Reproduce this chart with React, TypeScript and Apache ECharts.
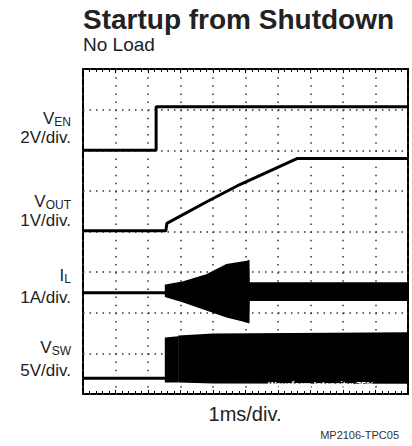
import React, { useEffect, useRef } from "react";
import * as echarts from "echarts";

// Screen is 10 horizontal divisions (1 ms/div) by 8 vertical divisions.
// Trace values are in divisions from the bottom of the screen.
const timeDivs = [0, 10];
const ampDivs = [0, 8];

const channelNames = ["V", "V", "I", "V"];
const channelSubs = ["EN", "OUT", "L", "SW"];
const channelScales = ["2V/div.", "1V/div.", "1A/div.", "5V/div."];

const titleText = "Startup from Shutdown";
const subtitleText = "No Load";
const xScaleText = "1ms/div.";
const figureId = "MP2106-TPC05";
const intensityText = "Waveform Intensity: 75%";

// V_EN trace [time div, level div]
const enTrace = [
  [0, 6.0],
  [2.25, 6.0],
  [2.25, 7.07],
  [10, 7.07],
];

// V_OUT trace
const outTrace = [
  [0, 4.02],
  [2.55, 4.02],
  [2.58, 4.2],
  [3.78, 4.72],
  [4.81, 5.15],
  [6.6, 5.8],
  [10, 5.8],
];

// I_L before switching starts
const ilBaseline = [
  [0, 2.49],
  [2.54, 2.49],
];
// I_L ripple envelope [time, low, high]
const ilEnvelope = [
  [2.54, 2.4, 2.68],
  [3.09, 2.27, 2.76],
  [3.8, 2.07, 2.93],
  [4.42, 1.9, 3.18],
  [5.04, 1.78, 3.26],
  [5.1, 1.76, 3.28],
  [5.11, 2.31, 2.73],
  [10, 2.31, 2.73],
];

// V_SW before switching starts
const swBaseline = [
  [0, 0.39],
  [2.54, 0.39],
];
// V_SW switching envelope [time, low, high]
const swEnvelopeA = [
  [2.54, 0.3, 1.37],
  [2.9, 0.3, 1.4],
];
const swEnvelopeB = [
  [2.95, 0.3, 1.42],
  [4.0, 0.28, 1.47],
  [10, 0.27, 1.5],
];

const FONT = "'Liberation Sans', Arial, Helvetica, sans-serif";

function traceSeries(data: number[][]) {
  return {
    type: "line",
    data,
    symbol: "none",
    silent: true,
    lineStyle: { color: "#000", width: 3 },
    z: 5,
  };
}

function bandSeries(rows: number[][]) {
  return {
    type: "custom",
    data: rows,
    encode: { x: 0, y: [1, 2] },
    silent: true,
    z: 5,
    renderItem: (params: any, api: any) => {
      if (params.dataIndex !== 0) return null;
      const top = rows.map((r) => api.coord([r[0], r[2]]));
      const bottom = rows
        .slice()
        .reverse()
        .map((r) => api.coord([r[0], r[1]]));
      return {
        type: "polygon",
        shape: { points: top.concat(bottom) },
        style: { fill: "#000", stroke: "#000", lineWidth: 1.5 },
      };
    },
  };
}

function measure(text: string, font: string): number {
  const c = document.createElement("canvas").getContext("2d");
  if (!c) return text.length * 8;
  c.font = font;
  return c.measureText(text).width;
}

export default function App() {
  const ref = useRef<HTMLDivElement>(null);

  useEffect(() => {
    document.body.style.margin = "0";
    if (!ref.current) return;
    const chart = echarts.init(ref.current, undefined, { renderer: "svg" });

    const gridLeft = 83;
    const gridTop = 69;
    const gridSize = 325;

    const labelRight = 71;
    const nameY = [118, 201, 275, 347];
    const subDrop = 4;
    const scaleY = [137, 220, 297, 370];
    const mainFont = `17px ${FONT}`;
    const subFont = `12px ${FONT}`;

    const labelGraphics: any[] = [];
    channelNames.forEach((n, i) => {
      const subW = measure(channelSubs[i], subFont);
      labelGraphics.push({
        type: "text",
        x: labelRight - subW,
        y: nameY[i],
        style: {
          text: n,
          align: "right",
          verticalAlign: "middle",
          font: mainFont,
          lineHeight: 13,
          fill: "#222",
        },
      });
      labelGraphics.push({
        type: "text",
        x: labelRight,
        y: nameY[i] + subDrop,
        style: {
          text: channelSubs[i],
          align: "right",
          verticalAlign: "middle",
          font: subFont,
          lineHeight: 10,
          fill: "#222",
        },
      });
      labelGraphics.push({
        type: "text",
        x: labelRight,
        y: scaleY[i],
        style: {
          text: channelScales[i],
          align: "right",
          verticalAlign: "middle",
          font: mainFont,
          lineHeight: 14,
          fill: "#222",
        },
      });
    });

    const tickCommon = {
      type: "value",
      min: timeDivs[0],
      max: timeDivs[1],
      interval: 1,
      axisLine: { show: false },
      axisLabel: { show: false },
      axisTick: { show: true, inside: true, length: 4, lineStyle: { color: "#000", width: 1 } },
      minorTick: { show: true, splitNumber: 5, length: 3, lineStyle: { color: "#000", width: 1 } },
    };

    chart.setOption({
      animation: false,
      backgroundColor: "#fff",
      grid: {
        left: gridLeft,
        top: gridTop,
        width: gridSize,
        height: gridSize,
        show: true,
        borderColor: "#000",
        borderWidth: 2,
        backgroundColor: "transparent",
      },
      xAxis: [
        {
          ...tickCommon,
          position: "bottom",
          splitLine: {
            show: true,
            lineStyle: { color: "#333", width: 1.5, type: [1.5, 6.625] },
          },
        },
        {
          ...tickCommon,
          position: "top",
          splitLine: { show: false },
        },
      ],
      yAxis: [
        {
          type: "value",
          min: ampDivs[0],
          max: ampDivs[1],
          interval: 1,
          axisLine: { show: false },
          axisLabel: { show: false },
          axisTick: { show: false },
          splitLine: {
            show: true,
            lineStyle: { color: "#333", width: 1.5, type: [1.5, 5] },
          },
        },
      ],
      series: [
        traceSeries(enTrace),
        traceSeries(outTrace),
        traceSeries(ilBaseline),
        bandSeries(ilEnvelope),
        traceSeries(swBaseline),
        bandSeries(swEnvelopeA),
        bandSeries(swEnvelopeB),
      ],
      graphic: [
        {
          type: "text",
          x: 83,
          y: 5,
          style: { text: titleText, font: `bold 28px ${FONT}`, fill: "#222", verticalAlign: "top" },
        },
        {
          type: "text",
          x: 83,
          y: 35,
          style: { text: subtitleText, font: `19px ${FONT}`, fill: "#222", verticalAlign: "top" },
        },
        {
          type: "text",
          x: 245,
          y: 414,
          style: { text: xScaleText, font: `20px ${FONT}`, fill: "#222", align: "center", verticalAlign: "middle" },
        },
        {
          type: "text",
          x: 399,
          y: 435,
          style: { text: figureId, font: `11px ${FONT}`, fill: "#333", align: "right", verticalAlign: "middle" },
        },
        {
          type: "text",
          x: 268,
          y: 385,
          z: 100,
          style: { text: intensityText, font: `bold 9px ${FONT}`, fill: "#fff", verticalAlign: "middle" },
        },
        ...labelGraphics,
      ],
    });

    return () => chart.dispose();
  }, []);

  return <div ref={ref} style={{ width: 412, height: 446 }} />;
}
